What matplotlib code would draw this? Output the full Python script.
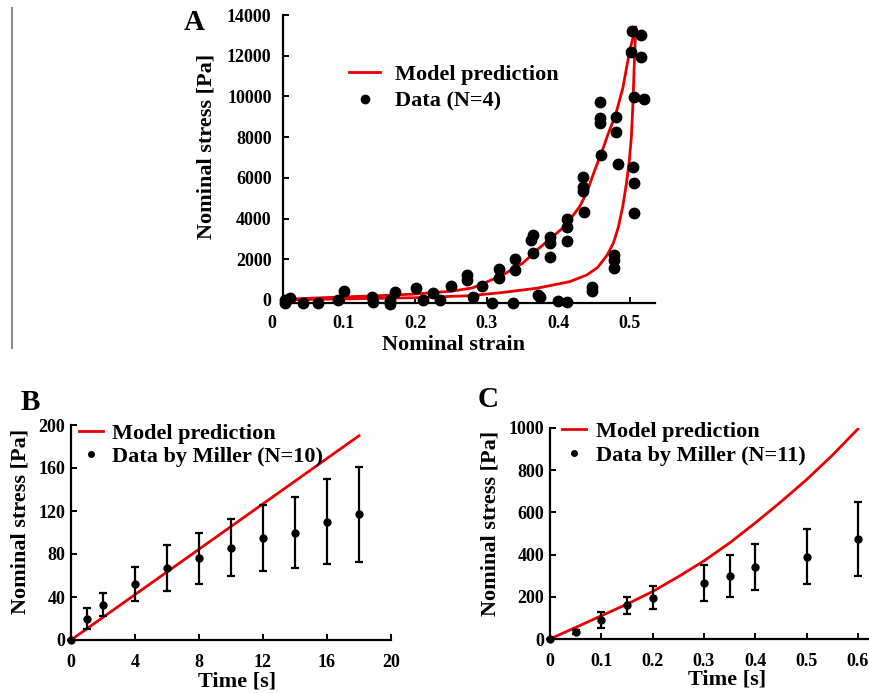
import numpy as np
import matplotlib
matplotlib.use("Agg")
import matplotlib.pyplot as plt
from matplotlib.lines import Line2D

plt.rcParams['font.family'] = ['Liberation Serif', 'DejaVu Serif']
plt.rcParams['font.weight'] = 'bold'
plt.rcParams['axes.labelweight'] = 'bold'

# ---- panel A: strain vs stress (hysteresis) ----
a_strain = [0.018, 0.018, 0.025, 0.044, 0.064, 0.092, 0.100, 0.139, 0.141, 0.165,
            0.165, 0.172, 0.201, 0.211, 0.225, 0.234, 0.250, 0.272, 0.272, 0.281,
            0.294, 0.307, 0.317, 0.317, 0.336, 0.340, 0.340, 0.362, 0.364, 0.364,
            0.372, 0.374, 0.388, 0.388, 0.388, 0.400, 0.412, 0.412, 0.412, 0.412,
            0.435, 0.435, 0.435, 0.436, 0.447, 0.447, 0.458, 0.458, 0.458, 0.459,
            0.478, 0.478, 0.478, 0.481, 0.481, 0.483, 0.503, 0.516, 0.502, 0.516,
            0.505, 0.519, 0.504, 0.505, 0.505]
a_stress = [0, -160, 80, -130, -160, 0, 460, 160, -80, 0,
            -200, 410, 570, 0, 330, 0, 690, 1230, 980, 130,
            690, -160, 1510, 1070, -160, 2000, 1470, 2950, 3190, 2290,
            250, 130, 3080, 2780, 2130, -50, 3960, 3600, 2900, -80,
            6020, 5560, 5370, 4340, 650, 440, 9740, 8920, 8700, 7120,
            2210, 1960, 1560, 9000, 8260, 6700, 13220, 13000, 12160, 11950,
            9950, 9870, 6530, 5760, 4260]

load_strain = [0.02, 0.05, 0.10, 0.15, 0.20, 0.25, 0.28, 0.32, 0.35, 0.37,
               0.39, 0.41, 0.43, 0.44, 0.45, 0.46, 0.47, 0.48, 0.49, 0.50, 0.508]
load_stress = [30, 80, 150, 210, 290, 430, 590, 1180, 1800, 2450,
               3050, 3650, 4600, 5300, 6300, 7200, 8200, 9100, 10400, 12300, 13400]
unload_strain = [0.508, 0.506, 0.504, 0.502, 0.499, 0.495, 0.490, 0.484, 0.477,
                 0.468, 0.455, 0.440, 0.416, 0.370, 0.320, 0.277, 0.200, 0.100, 0.020]
unload_stress = [13400, 11500, 9500, 8000, 6800, 5700, 4600, 3600, 2800,
                 2200, 1600, 1230, 900, 575, 360, 210, 110, 50, 10]

# ---- panel B ----
b_time = [0, 1, 2, 4, 6, 8, 10, 12, 14, 16, 18]
b_mean = [0, 20, 33, 52, 67, 76, 86, 95, 100, 110, 117]
b_err = [0, 9.5, 10.5, 16, 21, 24, 26.5, 31, 33, 39.5, 44]
b_model_t = [0, 18]
b_model = [0, 190]

# ---- panel C ----
c_time = [0, 0.05, 0.1, 0.15, 0.2, 0.3, 0.35, 0.4, 0.5, 0.6]
c_mean = [0, 35, 90, 160, 195, 265, 300, 340, 390, 475]
c_err = [0, 10, 40, 40, 55, 85, 100, 110, 130, 175]
c_model_t = [0, 0.05, 0.1, 0.15, 0.2, 0.25, 0.3, 0.35, 0.4, 0.45, 0.5, 0.55, 0.6]
c_model = [0, 55, 110, 165, 225, 295, 370, 455, 550, 650, 755, 870, 995]

RED = '#e60000'
W, H = 870, 693
fig = plt.figure(figsize=(W / 100, H / 100), dpi=100)


def px_axes(left, right, top, bottom):
    return fig.add_axes([left / W, 1 - bottom / H, (right - left) / W, (bottom - top) / H])


def style(ax, ypad, xpad):
    for s in ['top', 'right']:
        ax.spines[s].set_visible(False)
    for s in ['left', 'bottom']:
        ax.spines[s].set_linewidth(1.6)
    ax.tick_params(direction='in', length=4, width=1.4, labelsize=13)
    ax.tick_params(axis='y', pad=ypad)
    ax.tick_params(axis='x', pad=xpad)


def legend(ax, x, y, labels, handles, hlen, hpad, space):
    ax.legend(handles, labels, loc='upper left', bbox_to_anchor=(x / W, 1 - y / H),
              bbox_transform=fig.transFigure, frameon=False, borderpad=0,
              borderaxespad=0, handlelength=hlen, handletextpad=hpad,
              labelspacing=space, numpoints=1, prop={'size': 16, 'weight': 'bold'})


# panel A
axA = px_axes(272, 655, 15, 303)
axA.plot(load_strain, load_stress, color=RED, lw=2)
axA.plot(unload_strain, unload_stress, color=RED, lw=2)
axA.plot(a_strain, a_stress, 'o', color='black', ms=7.5, clip_on=False)
axA.set_xlim(0, 0.535)
axA.set_ylim(-150, 14000)
axA.spines['left'].set_position(('data', 0.015))
axA.spines['bottom'].set_bounds(0.015, 0.535)
axA.set_xticks([0, 0.1, 0.2, 0.3, 0.4, 0.5])
axA.set_xticklabels(['0', '0.1', '0.2', '0.3', '0.4', '0.5'])
axA.set_yticks(np.arange(0, 14001, 2000))
style(axA, 8, 9)
axA.xaxis.get_major_ticks()[0].tick1line.set_visible(False)
axA.set_xlabel('Nominal strain', fontsize=16)
axA.xaxis.set_label_coords(0.475, -0.11)
axA.set_ylabel('Nominal stress [Pa]', fontsize=16)
axA.yaxis.set_label_coords(-0.145, 0.545)
legend(axA, 349, 64, ['Model prediction', 'Data (N=4)'],
       [Line2D([], [], color=RED, lw=2),
        Line2D([], [], marker='o', ls='none', color='black', ms=6)], 1.4, 0.65, 0.3)

# panel B
axB = px_axes(71, 391, 425, 640)
axB.plot(b_model_t, b_model, color=RED, lw=2)
axB.errorbar(b_time, b_mean, yerr=b_err, fmt='o', color='black', ms=5,
             elinewidth=1.6, capsize=3, capthick=1.6, clip_on=False)
axB.set_xlim(0, 20)
axB.set_ylim(0, 200)
axB.set_xticks(np.arange(0, 21, 4))
axB.set_yticks(np.arange(0, 201, 40))
style(axB, 4, 10)
axB.set_xlabel('Time [s]', fontsize=16)
axB.xaxis.set_label_coords(0.52, -0.145)
axB.set_ylabel('Nominal stress [Pa]', fontsize=16)
axB.yaxis.set_label_coords(-0.125, 0.55)
legend(axB, 79, 423, ['Model prediction', 'Data by Miller (N=10)'],
       [Line2D([], [], color=RED, lw=2),
        Line2D([], [], marker='o', ls='none', color='black', ms=4)], 1.1, 0.4, 0.12)

# panel C
axC = px_axes(550, 904, 428, 639)
axC.plot(c_model_t, c_model, color=RED, lw=2)
axC.errorbar(c_time, c_mean, yerr=c_err, fmt='o', color='black', ms=5,
             elinewidth=1.6, capsize=3, capthick=1.6, clip_on=False)
axC.set_xlim(0, 0.69)
axC.set_ylim(0, 1000)
axC.set_xticks([0, 0.1, 0.2, 0.3, 0.4, 0.5, 0.6])
axC.set_xticklabels(['0', '0.1', '0.2', '0.3', '0.4', '0.5', '0.6'])
axC.set_yticks(np.arange(0, 1001, 200))
style(axC, 4, 10)
axC.set_xlabel('Time [s]', fontsize=16)
axC.xaxis.set_label_coords(0.5, -0.145)
axC.set_ylabel('Nominal stress [Pa]', fontsize=16)
axC.yaxis.set_label_coords(-0.14, 0.55)
legend(axC, 562, 421, ['Model prediction', 'Data by Miller (N=11)'],
       [Line2D([], [], color=RED, lw=2),
        Line2D([], [], marker='o', ls='none', color='black', ms=4)], 1.1, 0.45, 0.17)

# panel letters and the thin grey rule on the left
fig.text(194 / W, 1 - 22 / H, 'A', fontsize=21, ha='center', va='center')
fig.text(30 / W, 1 - 402 / H, 'B', fontsize=21, ha='center', va='center')
fig.text(488 / W, 1 - 400 / H, 'C', fontsize=21, ha='center', va='center')
fig.add_artist(Line2D([12 / W, 12 / W], [1 - 8 / H, 1 - 348 / H],
                      color='#8c8c8c', lw=1.5))

fig.savefig('out.png', dpi=100)
